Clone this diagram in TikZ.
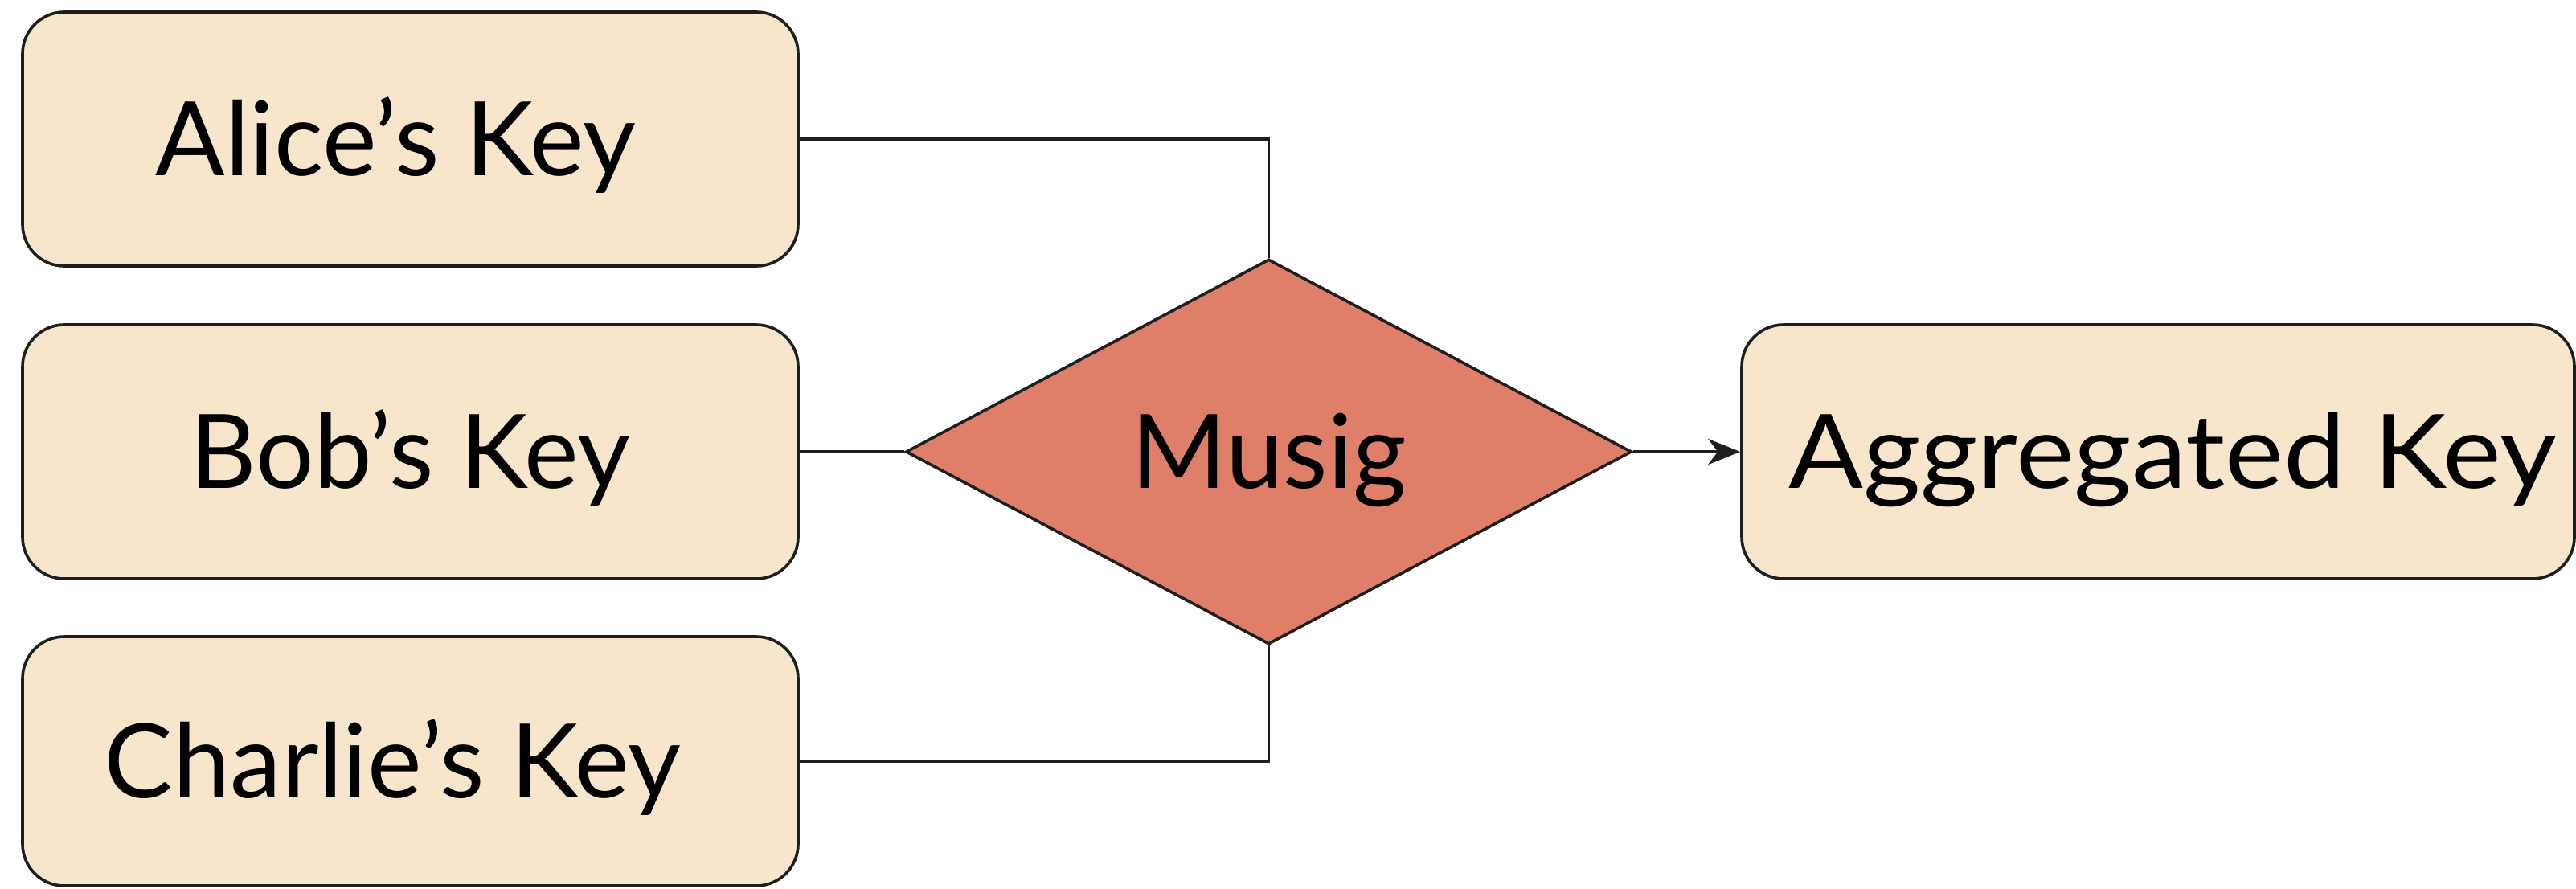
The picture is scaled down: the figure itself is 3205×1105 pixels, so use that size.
\documentclass[tikz,border=0pt]{standalone}
\usepackage{fontspec}
\setmainfont{Lato}
\usetikzlibrary{shapes.geometric,arrows.meta}
\definecolor{keyfill}{HTML}{F7E6CB}
\definecolor{musigfill}{HTML}{DF7F6A}
\definecolor{linecol}{HTML}{1E1E1E}
\begin{document}
\begin{tikzpicture}[x=0.5pt,y=-0.5pt,
  keybox/.style={draw=linecol,fill=keyfill,line width=1.8pt,rounded corners=26pt,
    minimum height=158pt,inner sep=0pt,text height=45.9pt,text depth=0pt,
    font=\fontsize{64}{70}\selectfont},
  conn/.style={draw=linecol,line width=1.8pt},
  musig/.style={diamond,draw=linecol,fill=musigfill,line width=1.8pt,inner sep=0pt,
    text height=45.9pt,text depth=0pt,
    minimum width=451.5pt,minimum height=239.5pt,font=\fontsize{64}{70}\selectfont}]
\useasboundingbox (0,0) rectangle (3205,1105);
\node[keybox,minimum width=482.5pt] (alice) at (510.5,173) {Alice’s Key\hspace*{18pt}};
\node[keybox,minimum width=482.5pt] (bob) at (510.5,562) {Bob’s Key};
\node[keybox,minimum width=482.5pt,minimum height=155pt] (charlie) at (510.5,947) {Charlie’s Key\hspace*{22pt}};
\node[musig] (mu) at (1578.5,562) {Musig};
\node[keybox,minimum width=518pt] (agg) at (2685,562) {\hspace*{18pt}\scalebox{1.074}[1]{Aggregated Key}};
\draw[conn] (alice.east) -| (mu.north);
\draw[conn] (bob.east) -- (mu.west);
\draw[conn] (charlie.east) -| (mu.south);
\draw[conn,-{Stealth[length=20pt,width=16pt,inset=6pt]}] (mu.east) -- (agg.west);
\end{tikzpicture}
\end{document}
